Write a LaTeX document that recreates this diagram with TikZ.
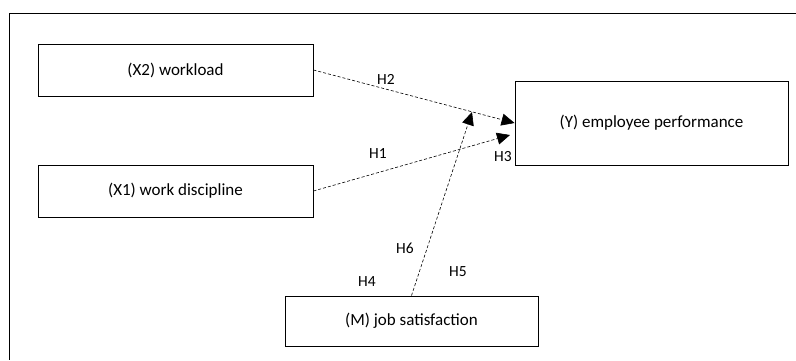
\documentclass[tikz,border=0pt]{standalone}
\usepackage{fontspec}
\setmainfont{Carlito}
\usetikzlibrary{arrows.meta}

\tikzset{
    varbox/.style={draw, line width=0.9pt, rectangle, inner sep=0pt, font=\fontsize{17}{19}\selectfont},
    hyplabel/.style={font=\fontsize{15.5}{17}\selectfont},
    hypedge/.style={draw, line width=0.6pt, dash pattern=on 3pt off 2pt, -{Triangle[length=13pt,width=12pt]}}
}

\begin{document}
\begin{tikzpicture}[x=1pt,y=-1pt]
    \useasboundingbox (0,0) rectangle (796,360);

    % frame
    \draw[line width=0.9pt] (796,13) -- (9,13) -- (9,360);

    % nodes (variables)
    \node[varbox, minimum width=275pt, minimum height=52pt] (X2) at (175.5,70) {(X2) workload};
    \node[varbox, minimum width=275pt, minimum height=52pt] (X1) at (175.5,191) {(X1) work discipline};
    \node[varbox, minimum width=273pt, minimum height=84pt] (Y) at (651.5,123) {(Y) employee performance};
    \node[varbox, minimum width=253pt, minimum height=50pt] (M) at (411.5,321) {(M) job satisfaction};

    % free ends
    \coordinate (h1end) at (510,135);
    \coordinate (mend) at (472,112);

	% edges
    \draw[hypedge] (X2.east) to (Y.west); % X2 -> Y
    \draw[hypedge] (X1.east) to (h1end); % X1 -> Y
    \draw[hypedge] (M.north) to (mend); % M -> Y

    % labels
    \node[hyplabel] (H2) at (386,79) {H2};
    \node[hyplabel] (H1) at (378,154) {H1};
    \node[hyplabel] (H3) at (503,157) {H3};
    \node[hyplabel] (H6) at (405,248) {H6};
    \node[hyplabel] (H5) at (458,272) {H5};
    \node[hyplabel] (H4) at (367,282) {H4};

\end{tikzpicture}
\end{document}
